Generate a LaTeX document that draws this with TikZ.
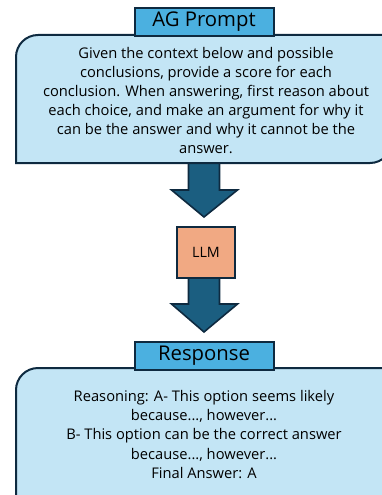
\documentclass[tikz,border=0pt]{standalone}
\usepackage{fontspec}
\setmainfont{Open Sans}
\usetikzlibrary{calc}
\definecolor{bordc}{HTML}{0E2A40}
\definecolor{titlec}{HTML}{4BB0E0}
\definecolor{boxc}{HTML}{C3E5F5}
\definecolor{arrc}{HTML}{1B5E80}
\definecolor{llmc}{HTML}{F1A983}
\tikzset{
  outline/.style={draw=bordc, line width=2pt, line join=miter},
  titlebox/.style={outline, fill=titlec, minimum width=139pt, minimum height=28pt, inner sep=0pt, font=\fontsize{20.3}{24}\selectfont},
  bodytext/.style={align=center, inner sep=0pt, font=\fontsize{14.7}{19.1}\selectfont},
  blockarrow/.style={outline, fill=arrc, line width=1.6pt},
  llmbox/.style={outline, fill=llmc, minimum width=58pt, minimum height=51pt, inner sep=0pt, font=\fontsize{14.3}{17}\selectfont},
}
\begin{document}
\begin{tikzpicture}[x=1pt,y=-1pt]
\useasboundingbox (0,0) rectangle (382,495);
\clip (0,0) rectangle (382,495);
% coordinates of box edges
\coordinate (pbot) at (204,163);
\node[llmbox] (llm) at (206,252.5) {LLM};
\coordinate (rtop) at (204,342);
% arrows
\draw[blockarrow] ($(pbot)+(-15.5,-4)$) -- ($(pbot)+(-15.5,27)$) -- ($(pbot)+(-32.5,27)$) -- ($(llm.north)+(-2,-9)$) -- ($(pbot)+(33.5,27)$) -- ($(pbot)+(15.5,27)$) -- ($(pbot)+(15.5,-4)$);
\draw[blockarrow] ($(llm.south)+(-17.5,0)$) -- ($(llm.south)+(-17.5,25)$) -- ($(llm.south)+(-34.5,25)$) -- ($(rtop)+(0,-10)$) -- ($(llm.south)+(31.5,25)$) -- ($(llm.south)+(13.5,25)$) -- ($(llm.south)+(13.5,0)$);
\node[llmbox] at (llm) {LLM};
% prompt box
\draw[outline, fill=boxc] (16,163) -- (16,57) arc[start angle=180, end angle=270, radius=22] -- (392,35) -- (392,141) arc[start angle=0, end angle=90, radius=22] -- cycle;
\node[titlebox] (ptitle) at (204,22) {AG Prompt};
\node[bodytext] (ptext) at (206,100.5) {Given the context below and possible\\conclusions, provide a score for each\\conclusion. When answering, first reason about\\each choice, and make an argument for why it\\can be the answer and why it cannot be the\\answer.};
% response box
\draw[outline, fill=boxc] (16,520) -- (16,390) arc[start angle=180, end angle=270, radius=22] -- (392,368) -- (392,520) -- cycle;
\node[titlebox] (rtitle) at (204,355.5) {Response};
\node[bodytext] (rtext) at (204,434.5) {Reasoning: A- This option seems likely\\because..., however...\\B- This option can be the correct answer\\because..., however...\\Final Answer: A};
\end{tikzpicture}
\end{document}
